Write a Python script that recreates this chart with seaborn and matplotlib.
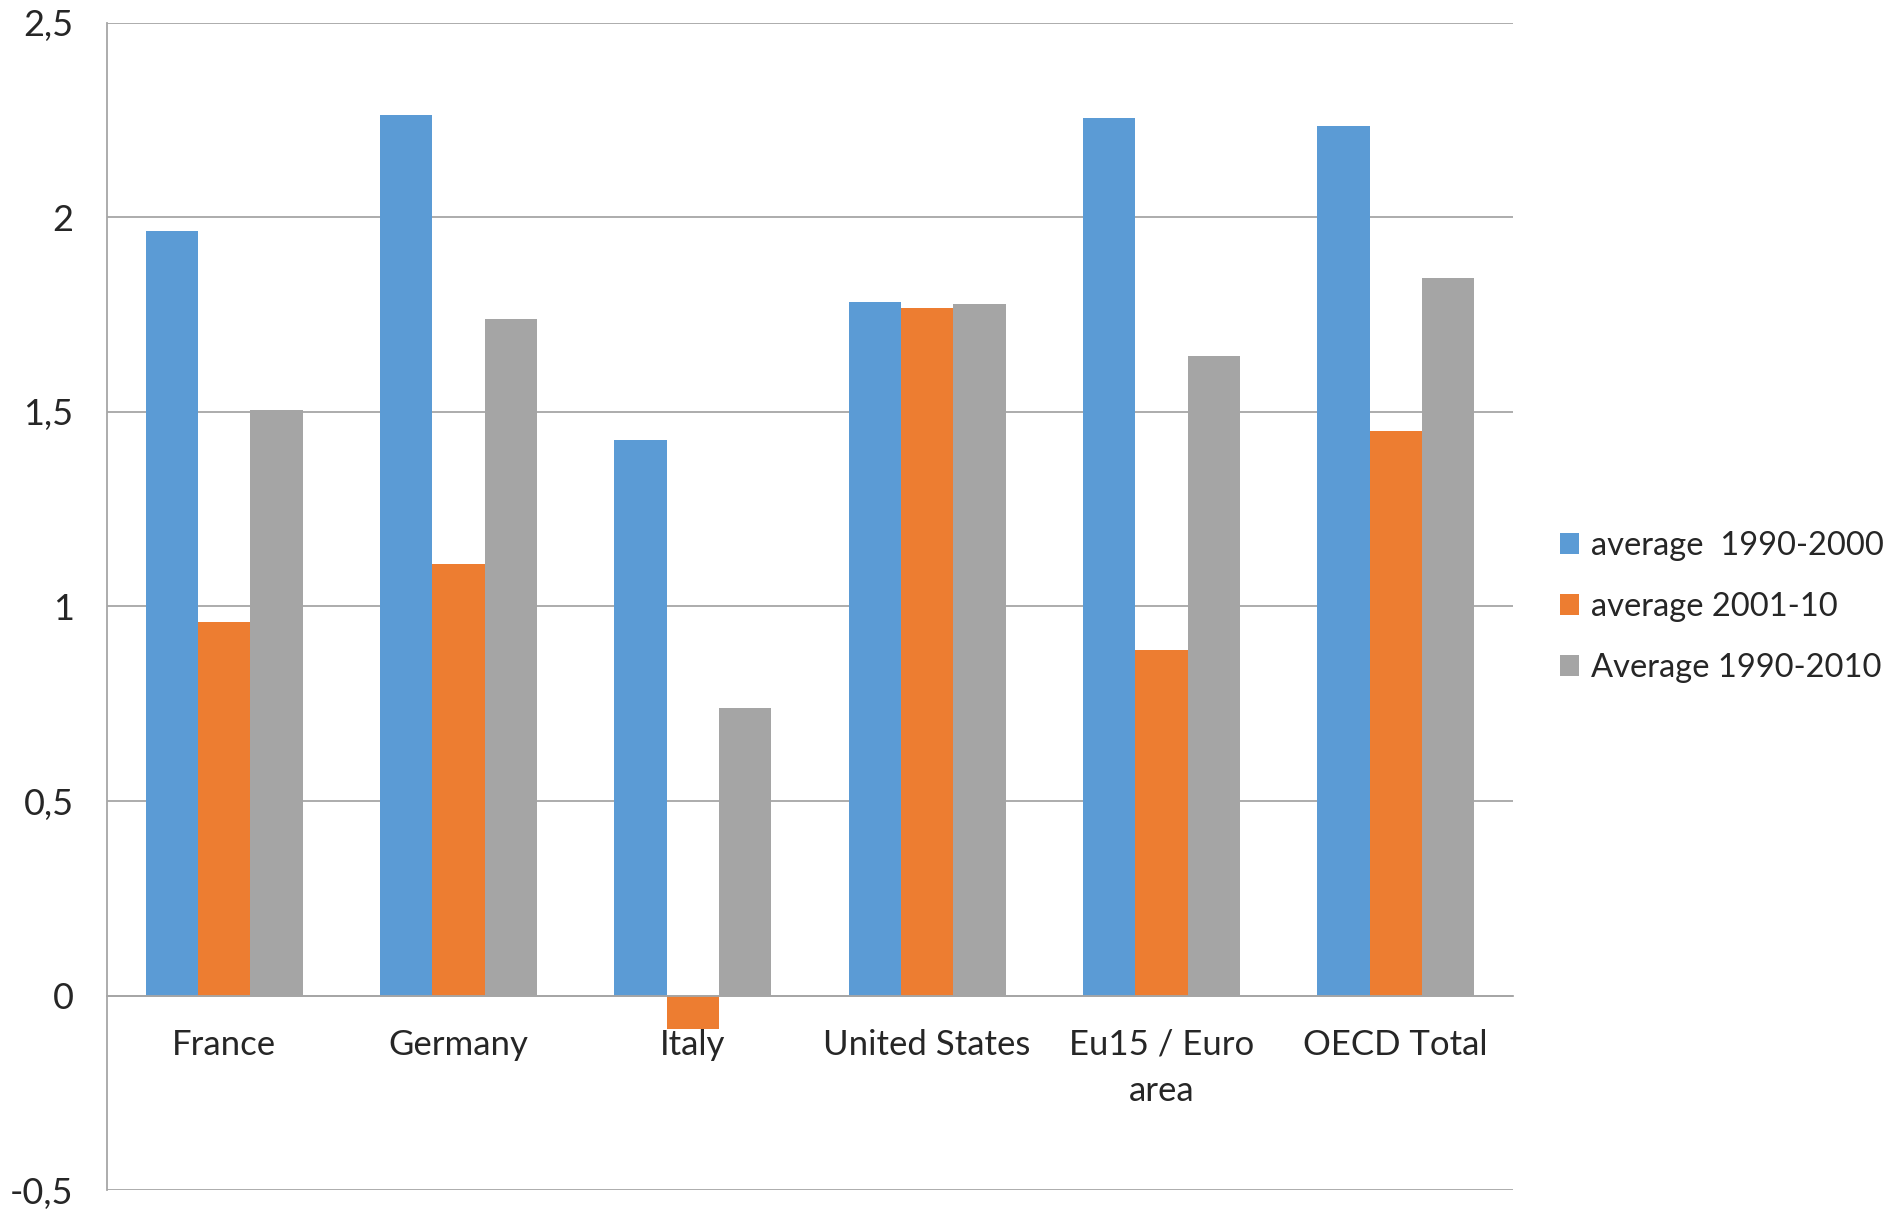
import pandas as pd
import seaborn as sns
import matplotlib.pyplot as plt

countries = ["France", "Germany", "Italy", "United States", "Eu15 / Euro\narea", "OECD Total"]
series_names = ["average  1990-2000", "average 2001-10", "Average 1990-2010"]
avg_1990_2000 = [1.964, 2.263, 1.428, 1.783, 2.257, 2.235]
avg_2001_10 = [0.960, 1.110, -0.087, 1.767, 0.888, 1.450]
avg_1990_2010 = [1.506, 1.739, 0.739, 1.777, 1.643, 1.845]
ytick_values = [-0.5, 0, 0.5, 1, 1.5, 2, 2.5]
ytick_labels = ["-0,5", "0", "0,5", "1", "1,5", "2", "2,5"]
colors = ["#5B9BD5", "#ED7D31", "#A5A5A5"]

df = pd.DataFrame({
    "country": countries * 3,
    "series": [s for s in series_names for _ in countries],
    "value": avg_1990_2000 + avg_2001_10 + avg_1990_2010,
})

sns.set_style("white")
plt.rcParams["font.family"] = ["Lato", "DejaVu Sans"]
plt.rcParams["xtick.labelsize"] = 25
plt.rcParams["ytick.labelsize"] = 26

fig = plt.figure(figsize=(19.03, 12.09), dpi=100)
ax = fig.add_axes([0.0562, 0.0157, 0.795 - 0.0562, 0.981 - 0.0157])

sns.barplot(data=df, x="country", y="value", hue="series", palette=colors,
            width=0.67, saturation=1, linewidth=0, ax=ax, legend=True)

ax.set_xlim(-0.5, len(countries) - 0.5)
ax.set_ylim(-0.5, 2.5)
ax.set_yticks(ytick_values)
ax.set_yticklabels(ytick_labels)
ax.set_xlabel("")
ax.set_ylabel("")
ax.tick_params(axis="x", length=0, pad=24)
ax.tick_params(axis="y", length=0, pad=24)
ax.yaxis.grid(True, color="#A6A6A6", linewidth=1.3)
ax.set_axisbelow(True)

ax.spines["bottom"].set_position(("data", 0))
ax.spines["bottom"].set_color("#A6A6A6")
ax.spines["bottom"].set_linewidth(1.3)
ax.spines["left"].set_color("#A6A6A6")
ax.spines["left"].set_linewidth(1.3)
ax.spines["top"].set_visible(False)
ax.spines["right"].set_visible(False)

handles, labels = ax.get_legend_handles_labels()
ax.get_legend().remove()
fig.legend(handles, labels, loc="center left", bbox_to_anchor=(0.811, 0.498),
           frameon=False, fontsize=23.5, borderpad=0, handlelength=0.6,
           handleheight=0.6, handletextpad=0.35, labelspacing=0.95)

# wider line gap for the two-line category label
fig.canvas.draw()
for lbl in ax.get_xticklabels():
    lbl.set_linespacing(1.55)

fig.savefig("out.png", dpi=100)
